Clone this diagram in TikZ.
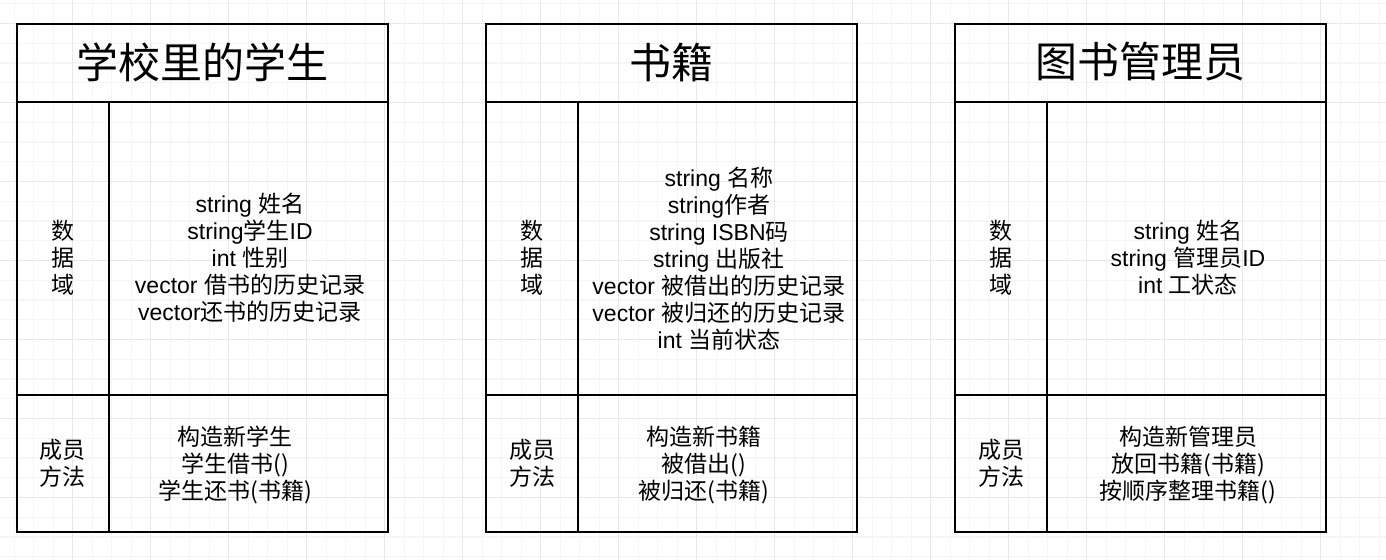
\documentclass[tikz,border=0pt]{standalone}
\usepackage{fontspec}
\setmainfont{Liberation Sans}
\newfontfamily\cjk{Noto Sans CJK SC}
\newcommand{\zh}[1]{{\cjk #1}}
\definecolor{gridminor}{HTML}{F5F5F5}
\definecolor{gridmajor}{HTML}{E8E8E8}

\begin{document}
\begin{tikzpicture}[x = 0.75pt, y = -0.75pt,
                        cell/.style = {draw, line width = 1.5pt},
                        minorline/.style = {draw = gridminor, line width = 1pt},
                        majorline/.style = {draw = gridmajor, line width = 1pt},
                        body/.style = {align = center, inner sep = 0pt, font = \fontsize{17.25}{20.25}\selectfont},
                        lbl/.style = {body, font = \fontsize{17.25}{20.25}\selectfont\cjk},
                        heading/.style = {inner sep = 0pt, font = \fontsize{31.5}{36}\selectfont\cjk}]
      \useasboundingbox (0, 0) rectangle (1386, 560);
      \fill [white] (0, 0) rectangle (1386, 560);

      % background grid
      \foreach \g in {0, ..., 70}
        \draw [minorline] ({14.2 + 19.5*\g}, 0) -- ++(0, 560);
      \foreach \g in {0, ..., 28}
        \draw [minorline] (0, {3.75 + 19.75*\g}) -- ++(1386, 0);
      \foreach \g in {0, ..., 17}
        \draw [majorline] ({72.7 + 78*\g}, 0) -- ++(0, 560);
      \foreach \g in {0, ..., 6}
        \draw [majorline] (0, {23.5 + 79*\g}) -- ++(1386, 0);

      % table frames
      \foreach \tx in {17, 486, 955} {
        \draw [cell] (\tx, 24) rectangle ++(371, 507.5);
        \draw [cell] (\tx, 101.7) -- ++(371, 0);
        \draw [cell] (\tx, 395) -- ++(371, 0);
        \draw [cell] (\tx + 92.3, 101.7) -- (\tx + 92.3, 531.5);
      }

      % student
      \node [heading] (stuTitle) at (202.6, 62) {学校里的学生};
      \node [lbl] (stuDataLbl) at (63, 258) {数\\据\\域};
      \node [body] (stuData) at (250, 258) {string \zh{姓名}\\string\zh{学生}ID\\int \zh{性别}\\vector \zh{借书的历史记录}\\vector\zh{还书的历史记录}};
      \node [lbl] (stuMethLbl) at (63, 463) {成员\\方法};
      \node [lbl] (stuMeth) at (235, 465) {构造新学生\\学生借书()\\学生还书(书籍)};

      % book
      \node [heading] (bookTitle) at (671.6, 62) {书籍};
      \node [lbl] (bookDataLbl) at (532, 258) {数\\据\\域};
      \node [body] (bookData) at (719, 259) {string \zh{名称}\\string\zh{作者}\\string ISBN\zh{码}\\string \zh{出版社}\\vector \zh{被借出的历史记录}\\vector \zh{被归还的历史记录}\\int \zh{当前状态}};
      \node [lbl] (bookMethLbl) at (532, 463) {成员\\方法};
      \node [lbl] (bookMeth) at (704, 465) {构造新书籍\\被借出()\\被归还(书籍)};

      % librarian
      \node [heading] (libTitle) at (1140.6, 62) {图书管理员};
      \node [lbl] (libDataLbl) at (1001, 258) {数\\据\\域};
      \node [body] (libData) at (1188, 258) {string \zh{姓名}\\string \zh{管理员}ID\\int \zh{工状态}};
      \node [lbl] (libMethLbl) at (1001, 463) {成员\\方法};
      \node [lbl] (libMeth) at (1188, 465) {构造新管理员\\放回书籍(书籍)\\按顺序整理书籍()};
      \end{tikzpicture}
\end{document}
